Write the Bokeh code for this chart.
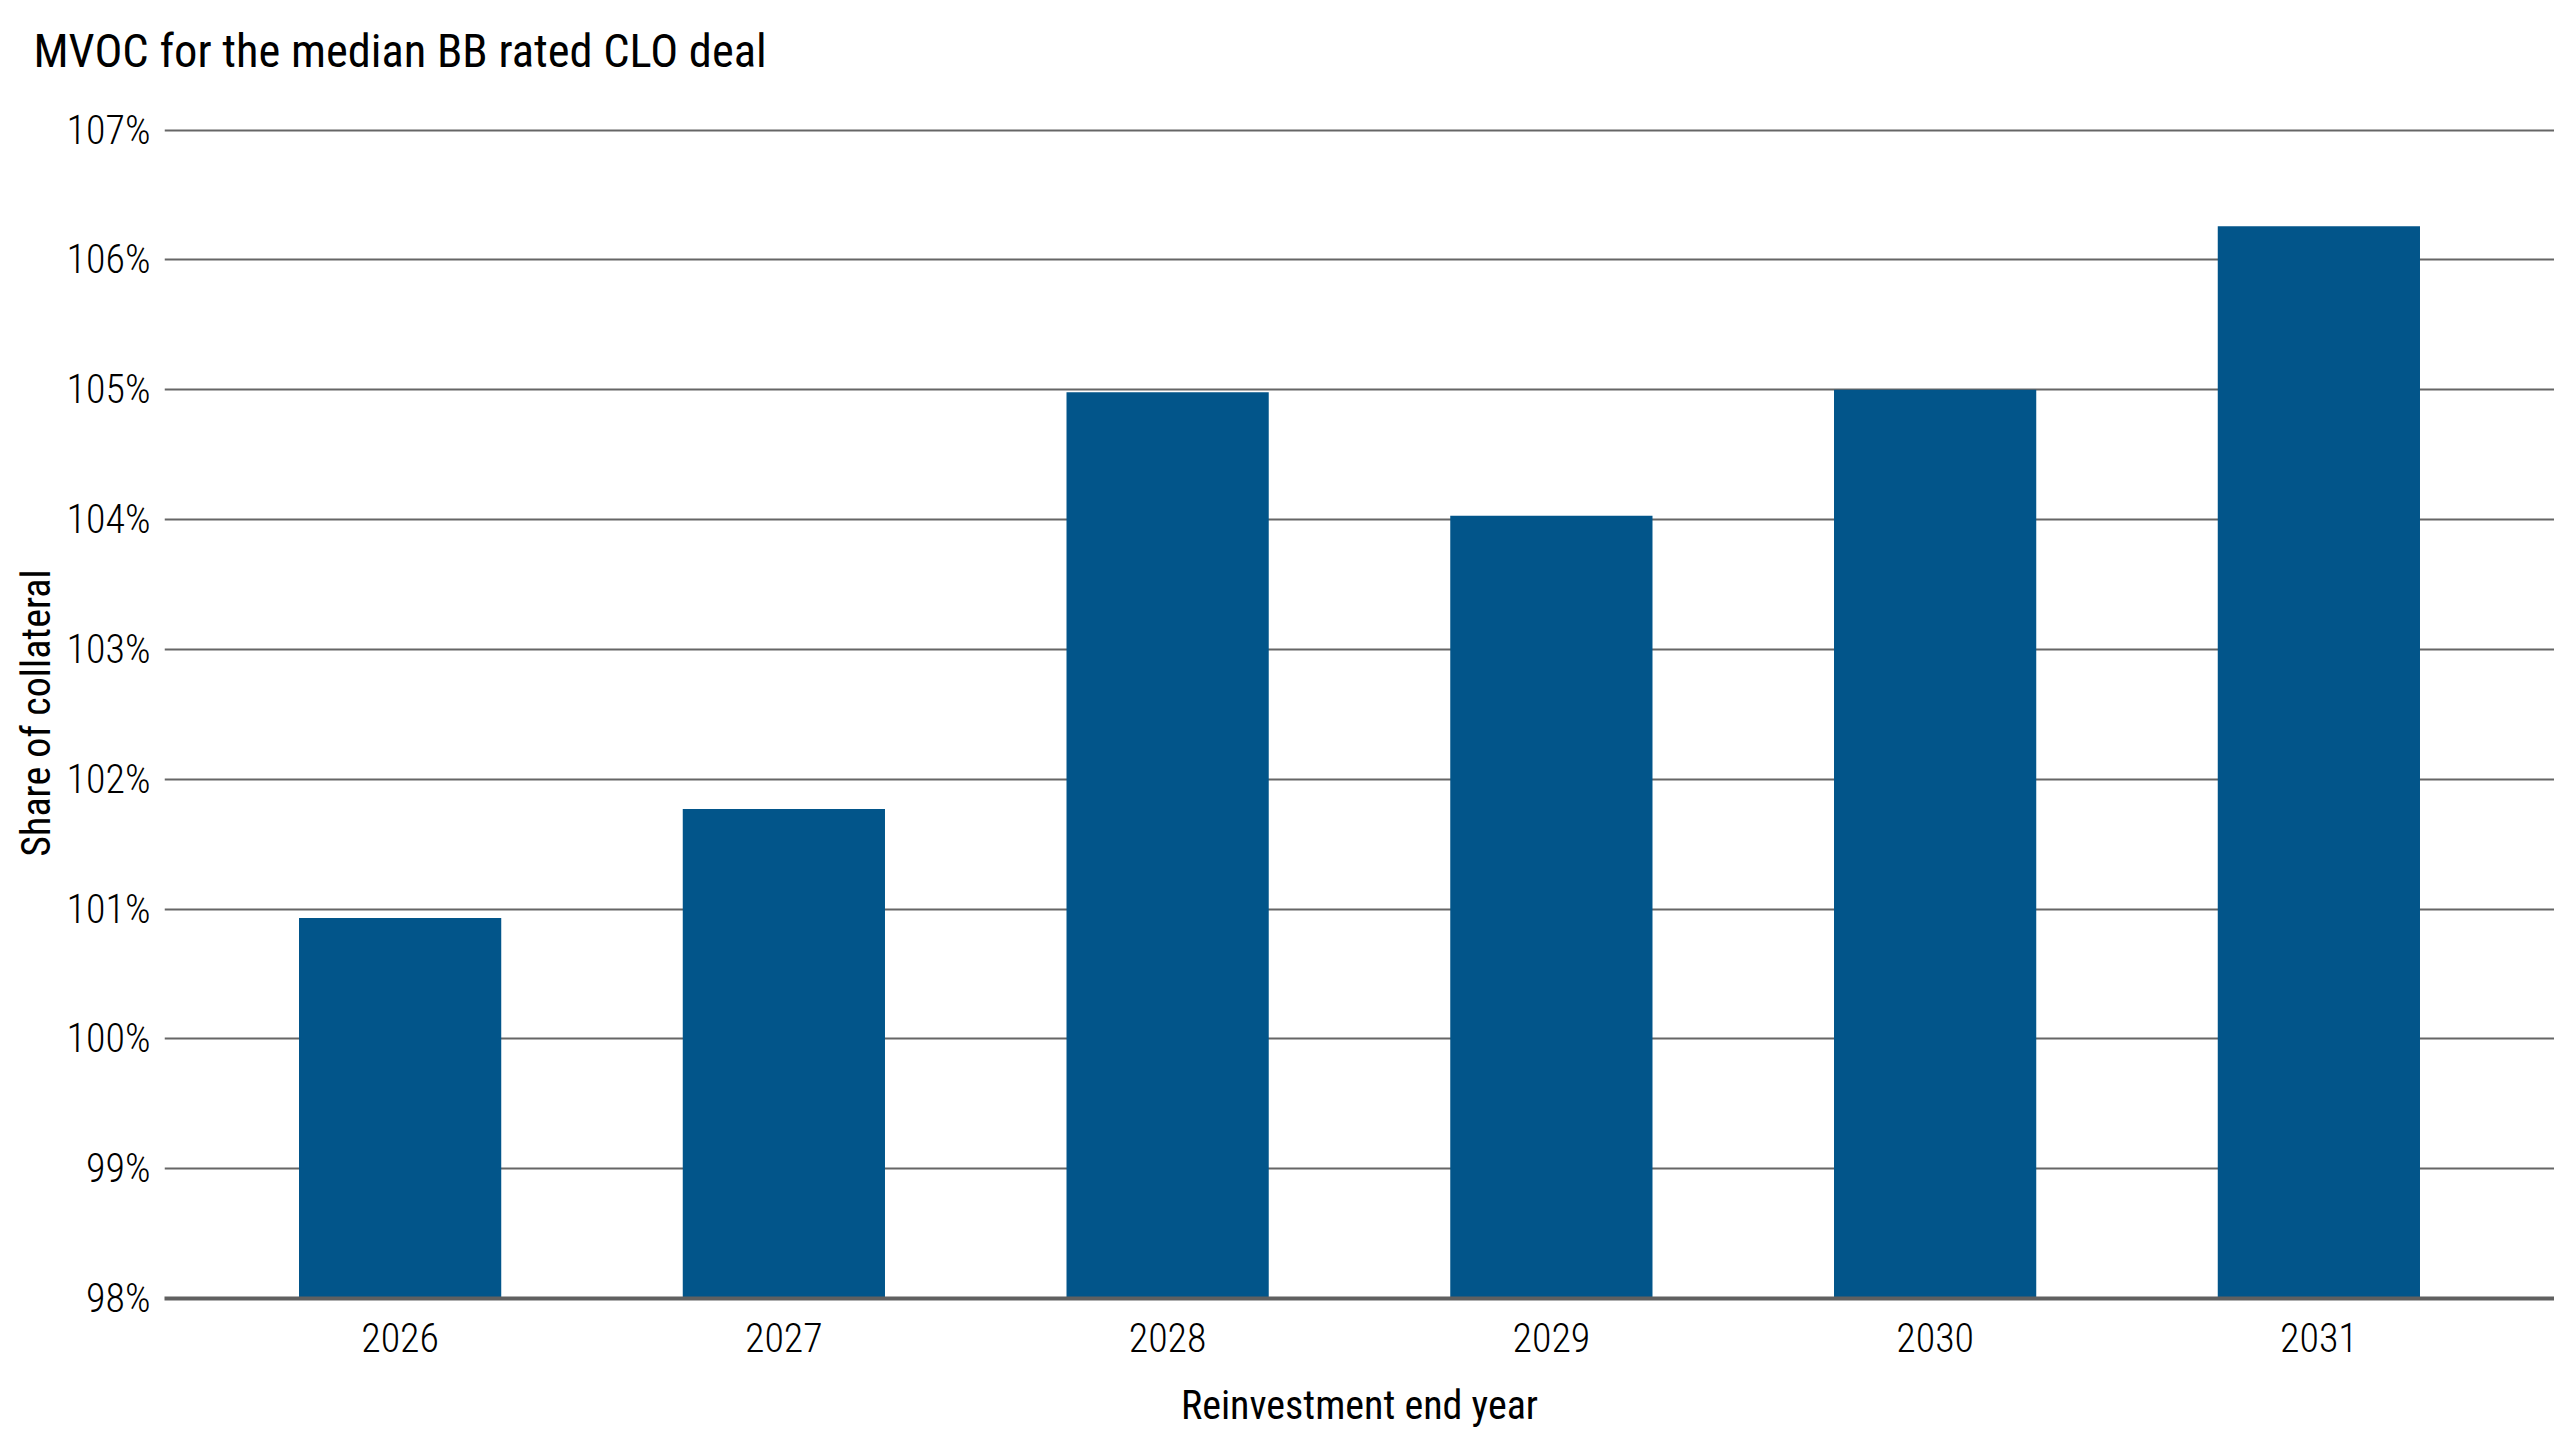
from bokeh.plotting import figure
from bokeh.layouts import column
from bokeh.embed import file_html
from bokeh.resources import INLINE
from bokeh.models import ColumnDataSource, FactorRange, FixedTicker, CustomJSTickFormatter

years = ["2026", "2027", "2028", "2029", "2030", "2031"]
mvoc = [100.93, 101.77, 104.98, 104.03, 105.00, 106.26]
y_ticks = [98, 99, 100, 101, 102, 103, 104, 105, 106, 107]
title_text = "MVOC for the median BB rated CLO deal"

BAR = "#02558A"
GRID = "#666666"
FONT = "Roboto Condensed"
FONT_LIGHT = "Roboto Condensed Light"
W = 2554

# ---- title strip (its frame is aligned with the chart below) ----
head = figure(width=W, height=102, output_backend="svg", toolbar_location=None,
              title=title_text, x_axis_location=None, y_axis_location=None,
              min_border_left=0, min_border_right=0, min_border_top=0, min_border_bottom=0)
head.outline_line_color = None
head.grid.visible = False
head.title.text_font = FONT
head.title.text_font_size = "46.5px"
head.title.text_font_style = "normal"
head.title.text_color = "#000000"
head.title.align = "left"
head.title.offset = -131
head.title.standoff = 43

# ---- chart ----
src = ColumnDataSource(data=dict(year=years, mvoc=mvoc))

fig = figure(width=W, height=1334, output_backend="svg", toolbar_location=None,
             x_range=FactorRange(factors=years, range_padding=0.038),
             y_range=(98, 107.02),
             min_border_left=164, min_border_right=0, min_border_top=25, min_border_bottom=138)

fig.vbar(x="year", top="mvoc", bottom=98, width=0.527, source=src, fill_color=BAR, line_color=None)

fig.outline_line_color = None
fig.background_fill_color = "white"
fig.border_fill_color = "white"

fig.xgrid.grid_line_color = None
fig.ygrid.ticker = FixedTicker(ticks=y_ticks)
fig.ygrid.grid_line_color = GRID
fig.ygrid.grid_line_width = 2

fig.yaxis.ticker = FixedTicker(ticks=y_ticks)
fig.yaxis.formatter = CustomJSTickFormatter(code="return tick.toFixed(0) + '%';")
fig.yaxis.axis_line_color = None
fig.yaxis.major_tick_line_color = None
fig.yaxis.minor_tick_line_color = None
fig.yaxis.major_tick_in = 0
fig.yaxis.major_tick_out = 0
fig.yaxis.major_label_standoff = 14
fig.yaxis.major_label_text_font = FONT_LIGHT
fig.yaxis.major_label_text_font_size = "40px"
fig.yaxis.major_label_text_color = "#000000"
fig.yaxis.axis_label = "Share of collateral"
fig.yaxis.axis_label_text_font = FONT
fig.yaxis.axis_label_text_font_size = "40px"
fig.yaxis.axis_label_text_font_style = "normal"
fig.yaxis.axis_label_text_color = "#000000"
fig.yaxis.axis_label_standoff = 4

fig.xaxis.axis_line_color = "#606060"
fig.xaxis.axis_line_width = 4
fig.xaxis.major_tick_line_color = None
fig.xaxis.minor_tick_line_color = None
fig.xaxis.major_tick_in = 0
fig.xaxis.major_tick_out = 0
fig.xaxis.major_label_standoff = 24
fig.xaxis.major_label_text_font = FONT_LIGHT
fig.xaxis.major_label_text_font_size = "40px"
fig.xaxis.major_label_text_color = "#000000"
fig.xaxis.axis_label = "Reinvestment end year"
fig.xaxis.axis_label_text_font = FONT
fig.xaxis.axis_label_text_font_size = "40px"
fig.xaxis.axis_label_text_font_style = "normal"
fig.xaxis.axis_label_text_color = "#000000"
fig.xaxis.axis_label_standoff = 27

p = column(head, fig, spacing=0)

open("out.html", "w").write(file_html(p, INLINE))
